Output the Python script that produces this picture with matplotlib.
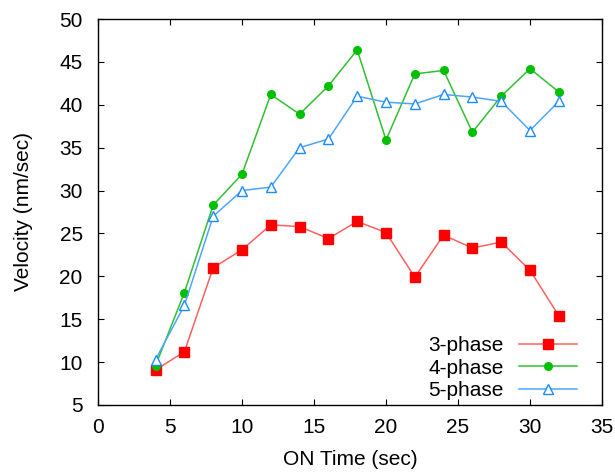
import matplotlib
matplotlib.use("Agg")
import matplotlib.pyplot as plt

plt.rcParams['font.family'] = ['Liberation Sans', 'DejaVu Sans']

on_time = [4, 6, 8, 10, 12, 14, 16, 18, 20, 22, 24, 26, 28, 30, 32]
phase3 = [9.1, 11.2, 21.0, 23.1, 26.0, 25.8, 24.4, 26.4, 25.1, 19.9, 24.8, 23.3, 24.0, 20.7, 15.4]
phase4 = [9.6, 18.1, 28.3, 31.9, 41.2, 38.9, 42.2, 46.4, 35.9, 43.6, 44.0, 36.8, 41.0, 44.2, 41.5]
phase5 = [10.3, 16.6, 27.0, 30.0, 30.4, 35.0, 36.0, 41.0, 40.3, 40.1, 41.2, 40.9, 40.4, 37.0, 40.4]

fs = 15

fig = plt.figure(figsize=(6.15, 4.74), dpi=100)
ax = fig.add_axes([0.1593, 0.1456, 0.8196, 0.8143])

ax.plot(on_time, phase3, color='#ff6060', lw=1.1, marker='s', ms=6.5,
        mfc='#ff0000', mec='#ff0000', label='3-phase')
ax.plot(on_time, phase4, color='#30c030', lw=1.1, marker='o', ms=5.5,
        mfc='#00c000', mec='#00c000', label='4-phase')
ax.plot(on_time, phase5, color='#4da6ff', lw=1.1, marker='^', ms=7,
        mfc='white', mec='#1a8cff', mew=1.0, label='5-phase')

ax.set_xlim(0, 35)
ax.set_ylim(5, 50)
ax.set_xticks(range(0, 36, 5))
ax.set_yticks(range(5, 51, 5))
ax.tick_params(direction='in', length=4.5, width=0.8, top=True, right=True,
               labelsize=fs, pad=9.5)
ax.tick_params(axis='y', pad=11)
for s in ax.spines.values():
    s.set_linewidth(1.0)

ax.set_xlabel('ON Time (sec)', fontsize=fs, labelpad=9)
ax.set_ylabel('Velocity (nm/sec)', fontsize=fs, labelpad=19)

ax.legend(loc='lower right', bbox_to_anchor=(0.98, -0.025), frameon=False,
          markerfirst=False, fontsize=fs, handlelength=2.8,
          labelspacing=0.17, handletextpad=0.75, borderpad=0.2)

fig.savefig('out.png', dpi=100)
